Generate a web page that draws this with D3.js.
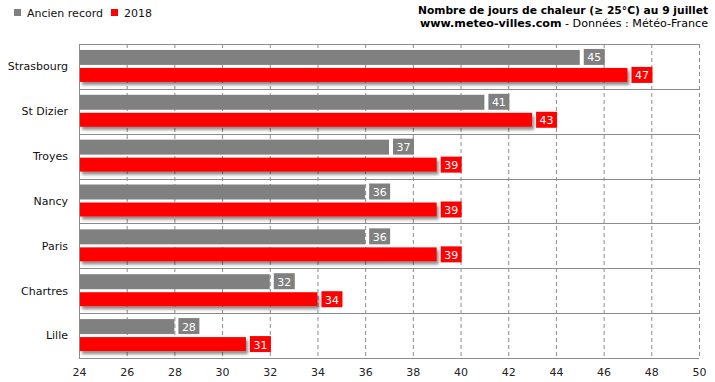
<!DOCTYPE html>
<html><head><meta charset="utf-8">
<script src="https://cdn.jsdelivr.net/npm/d3@7"></script>
<style>body{margin:0;background:#fff}svg{display:block;font-family:"DejaVu Sans",Verdana,sans-serif}</style>
</head><body>
<script>
const categories = ["Strasbourg","St Dizier","Troyes","Nancy","Paris","Chartres","Lille"];
const seriesNames = ["Ancien record","2018"];
const ancienRecord = [45,41,37,36,36,32,28];
const y2018 = [47,43,39,39,39,34,31];
const xTicks = [24,26,28,30,32,34,36,38,40,42,44,46,48,50];
const colors = ["#808080","#ff0000"];

const W=715,H=382;
const m={l:79,r:16,t:44,b:24};
const svg=d3.select("body").append("svg").attr("width",W).attr("height",H);
const defs=svg.append("defs");
const f=defs.append("filter").attr("id","sh").attr("x","-5%").attr("y","-30%").attr("width","115%").attr("height","190%");
f.append("feDropShadow").attr("dx",2).attr("dy",3).attr("stdDeviation",1.5).attr("flood-color","#000").attr("flood-opacity",0.45);

const x=d3.scaleLinear().domain([24,50]).range([m.l,W-m.r]);
const y=d3.scaleBand().domain(categories).range([m.t,H-m.b]);
const ys=d3.scaleBand().domain(seriesNames).range([0,y.bandwidth()]).paddingInner(0.167).paddingOuter(0.33);

// grid
const g=svg.append("g");
g.selectAll(".v").data(xTicks.slice(1)).join("line")
 .attr("x1",d=>x(d)+0.5).attr("x2",d=>x(d)+0.5).attr("y1",m.t).attr("y2",H-m.b)
 .attr("stroke","#8c8c8c").attr("stroke-dasharray","4,3");
g.selectAll(".h").data(categories).join("line")
 .attr("x1",m.l).attr("x2",W-m.r).attr("y1",d=>Math.round(y(d))+0.5).attr("y2",d=>Math.round(y(d))+0.5)
 .attr("stroke","#8c8c8c");
g.append("line").attr("x1",m.l).attr("x2",W-m.r).attr("y1",H-m.b+0.5).attr("y2",H-m.b+0.5).attr("stroke","#8c8c8c");
g.append("line").attr("x1",m.l+0.5).attr("x2",m.l+0.5).attr("y1",m.t).attr("y2",H-m.b).attr("stroke","#8c8c8c");

// axis
const ax=svg.append("g").attr("transform",`translate(0,${H-m.b})`)
 .call(d3.axisBottom(x).tickValues(xTicks).tickSize(0).tickPadding(10).tickFormat(d3.format("d")));
ax.select(".domain").remove();
ax.selectAll("text").attr("font-size",11).attr("fill","#222").attr("font-family","DejaVu Sans, Verdana, sans-serif");

// category labels
svg.selectAll(".cat").data(categories).join("text")
 .attr("x",68).attr("y",d=>y(d)+y.bandwidth()/2).attr("dy","0.35em")
 .attr("text-anchor","end").attr("font-size",11).attr("fill","#111").text(d=>d);

const data=[ancienRecord,y2018];
data.forEach((vals,si)=>{
  const s=seriesNames[si];
  const gg=svg.append("g");
  gg.selectAll("rect.bar").data(vals).join("rect")
   .attr("x",x(24)+1).attr("y",(d,i)=>y(categories[i])+ys(s))
   .attr("width",d=>x(d)-x(24)-1).attr("height",ys.bandwidth()-(si?1:0))
   .attr("fill",colors[si]).attr("filter",si?"url(#sh)":null);
  gg.selectAll("rect.lab").data(vals).join("rect")
   .attr("x",d=>x(d)+4).attr("y",(d,i)=>y(categories[i])+ys(s)+ys.bandwidth()/2-8.5)
   .attr("width",21).attr("height",16).attr("fill",colors[si]);
  gg.selectAll("text").data(vals).join("text")
   .attr("x",d=>x(d)+14.5).attr("y",(d,i)=>y(categories[i])+ys(s)+ys.bandwidth()/2)
   .attr("dy","0.36em").attr("text-anchor","middle").attr("font-size",11).attr("fill","#fff").text(d=>d);
});

// legend
const lg=svg.append("g");
seriesNames.forEach((s,i)=>{
  const lx=[14,111][i];
  lg.append("rect").attr("x",lx).attr("y",9).attr("width",7).attr("height",7).attr("fill",colors[i]);
  lg.append("text").attr("x",lx+13).attr("y",16.5).attr("font-size",11).attr("fill","#111").text(s);
});

// title
svg.append("text").attr("x",708).attr("y",13.5).attr("text-anchor","end").attr("font-size",11).attr("font-weight","bold")
 .attr("textLength",290).attr("lengthAdjust","spacingAndGlyphs")
 .text("Nombre de jours de chaleur (≥ 25°C) au 9 juillet");
const t2=svg.append("text").attr("x",708).attr("y",27).attr("text-anchor","end").attr("font-size",11)
 .attr("textLength",288).attr("lengthAdjust","spacingAndGlyphs");
t2.append("tspan").attr("font-weight","bold").text("www.meteo-villes.com");
t2.append("tspan").text(" - Données : Météo-France");
</script>
</body></html>
